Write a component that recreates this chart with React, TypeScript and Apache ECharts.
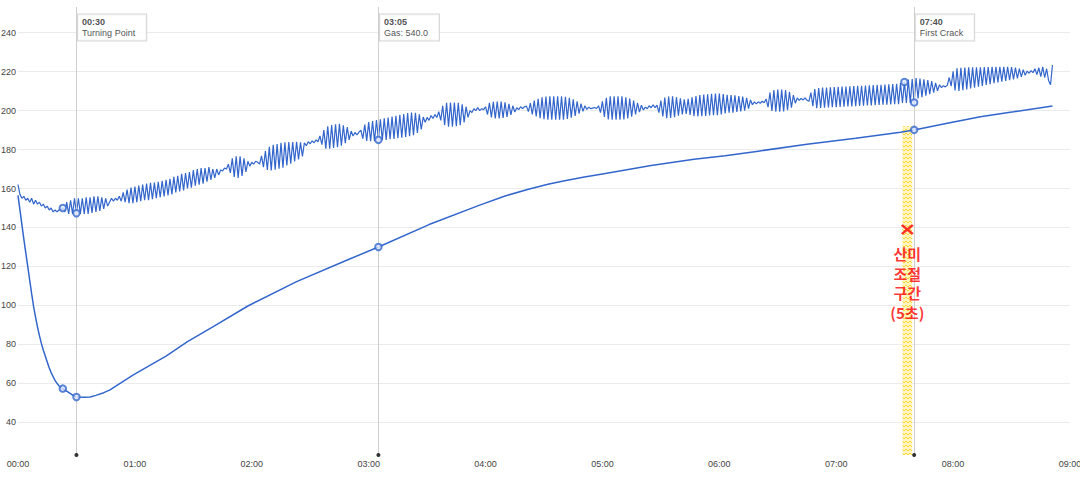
import React, { useEffect, useRef } from "react";
import * as echarts from "echarts";

// ---- axis ticks ----
const yTicks = [40, 60, 80, 100, 120, 140, 160, 180, 200, 220, 240];
const yMin = 23.2;
const yMax = 253.2;
const xMin = 0;
const xMax = 540;
const xStep = 60;

// ---- ET (upper, oscillating) : one value per second, chunk start time given ----
const etPart1 = [162, 157, 155, 156, 154, 155, 153, 155, 152, 154, 152, 153, 151, 152, 150, 151, 149, 150, 148, 149, 148, 149, 149,
  150, 148, 153, 147, 154, 147, 155, 147.3, 155, 147, 155, 147, 155.5, 147, 155.5, 147.5, 156, 148, 156, 148.5, 155.5, 149.5, 155, 151,
  153, 155, 153.5, 155, 154, 156];
const etPart2 = [153.5, 158, 153, 159.5, 152.5, 160.5, 152.5, 161, 153, 161.5, 153.5, 162, 154, 162.5, 154, 163, 154.5, 163, 155, 163.5,
  155.5, 164, 156, 164.5, 156.5, 165, 157, 166, 158, 166.5, 158.5, 167.5, 159, 168, 160, 168.5, 160.5, 169.5, 161.5, 170, 162, 170.5,
  162.5, 170.5, 163.5, 171, 164.5, 170, 165.5, 170, 167, 169.5,
  169, 170.5, 170,
  172.5, 168, 175.5, 166, 176.5, 165.5, 176.5, 166.5, 175.5, 168.5, 174,
  171.5, 173.5, 172.5, 174, 173.5];
const etPart3 = [172.5, 176.8, 171, 179.3, 169.6, 181.4, 169.3, 182.4, 169.7, 182.9, 170.2, 183.5, 170.7, 183.8, 171.8, 183.9, 172.8,
  183.8, 173.9, 184, 175, 183.7, 176.5, 183.5,
  182, 184, 183, 184.5, 183.5, 185, 184,
  187, 182.5, 190, 180.5, 192, 180.4, 192.6, 180.8, 193, 181.2, 193.2, 182, 192.5, 183.3, 191.5, 185,
  189.5, 187, 188.8, 187.5, 189];
const etPart4 = [190, 185.6, 192.8, 184.5, 194.1, 184.3, 194.6, 184.3, 195.2, 185, 195.6, 184.8, 196.1, 185, 196.5, 185.3, 196.9, 185.5,
  197.4, 185.8, 197.9, 186.1, 198.3, 186.5, 198.7, 186.9, 199, 187.4, 198.9, 188.5, 198.1, 190.3, 196.7,
  194, 196.5, 195, 197.5, 196, 198, 196.5,
  199.5, 195, 202.5, 192.5, 204, 191.8, 204.2, 191.8, 204.2, 192, 204, 192.5, 203.3, 194, 202, 196.5, 200,
  199, 201, 200, 201.5, 200, 201, 200.5];
const etPart5 = [202, 198, 204, 196.5, 204.5, 196, 204.7, 196, 204.6, 196.2, 204.3, 196.8, 203.5, 197.8, 202.5, 199.3,
  201.5, 200.5, 202, 201, 202,
  202.3, 199.5, 203.8, 198.1, 205.1, 197, 206.1, 196.1, 206.8, 195.6, 207.2, 195.3, 207.3, 195.3, 207.3, 195.3, 207.3, 195.3, 207.3,
  195.4, 207.1, 195.7, 206.6, 196.4, 205.8, 197.3, 204.8, 198.4, 203.6, 199.6, 202.5, 200.6,
  201.8, 201, 201.3, 201.6, 201.1];
const etPart6 = [202.5, 199, 204.8, 196.8, 206.6, 195.5, 207.3, 195.3, 207.3, 195.3, 207.3, 195.3, 207.3, 195.5, 206.9, 196, 206.2,
  196.9, 205.2, 198, 204, 199.2, 202.8, 200.3, 201.8,
  201, 202.5, 201.5, 203, 201.5,
  202.8, 199, 205.2, 197, 206.7, 196.1, 207.2, 196.2, 207.3, 196.6, 206.9, 197.4, 206.3, 198, 205.8, 198.3, 206, 197.8, 206.8, 197.2,
  207.5, 197, 208, 197.1, 208.2, 197.3, 208.4, 197.5, 208.6, 197.6, 208.7, 197.7, 208.7, 198, 208.5, 198.5, 208.1, 198.9, 208, 199,
  207.8, 199.3, 207.5, 199.6, 207.2, 200, 206.5, 201, 205.5,
  203, 204.5, 203.5, 204.5, 203.8, 204.8, 204];
const etPart7 = [206, 201.8, 209.3, 199.8, 210.6, 199.5, 210.8, 199.5, 210.8, 199.6, 210.6, 200.2, 209.7, 201.5, 208, 203.8,
  206.5, 205.3, 206.2, 205.5, 206.5, 205.3,
  204.8, 209.3, 202.3, 211.1, 201.2, 211.6, 201.4, 211.8, 201.5, 211.9, 201.6, 212, 201.7, 212.1, 201.8, 212.2, 201.9, 212.3, 202,
  212.4, 202.1, 212.5, 202.2, 212.6, 202.3, 212.7, 202.4, 212.8, 202.5, 212.9, 202.6, 213, 202.7, 213.1, 202.8, 213.2, 202.9, 213.3,
  203, 213.4, 203.1, 213.5, 203.2, 213.6, 203.3, 213.8, 203.3, 214.2, 203.9, 214.7, 203.9, 215.9, 204, 216.2, 204.2, 216.7, 206.2,
  216.5, 206.9, 216.1, 207.7, 215.7, 208.5, 215.1, 209.3, 214.3, 210.2, 213.3];
const etPart8 = [211.8, 212.8, 212.2, 213,
  217, 212.6, 220.2, 210.3, 221.7, 210.1, 222, 210.5, 222.1, 210.9, 222.2, 211.4, 222.2, 211.8, 222.3, 212.3, 222.3, 212.7, 222.4,
  213.2, 222.4, 213.6, 222.5, 214.1, 222.5, 214.5, 222.5, 214.9, 222.5, 215.3, 222.5, 215.6, 222.4, 216, 222.1, 216.6, 221.6, 217.3,
  221, 218.2, 220.3,
  219.2, 220.5, 219.5, 221.5, 218.5, 222, 217.5, 222.5, 217, 221.5, 215.5, 213.3, 223.4];
const etStarts = [0, 53, 124, 176, 240, 298, 384, 474];
const etParts = [etPart1, etPart2, etPart3, etPart4, etPart5, etPart6, etPart7, etPart8];

// ---- BT (lower, smooth) ----
const btTimes = [0, 1, 2, 3, 4, 5, 6, 7, 8, 9, 10, 11, 12, 13, 14, 15, 16, 17, 18, 19, 20, 21, 22, 23, 24, 26, 28, 30, 34, 37, 40,
  44, 47, 53, 59, 65, 76, 87, 100, 118, 143, 169, 185, 211, 237, 250, 262, 272, 280, 290, 300, 325, 347, 363, 380, 405, 430, 453, 460,
  477, 494, 511, 531];
const btValues = [156.5, 149, 141.5, 134, 127, 120, 113, 106, 99.5, 94, 89, 84.5, 80.5, 77, 74, 71, 68, 65.5, 63.5, 61.5, 60, 58.8,
  57.8, 57.3, 56.5, 55.3, 54, 53, 52.8, 53, 53.8,
  55.2, 56.5, 60.3, 64.2, 67.7, 74, 81.4, 89, 99.7, 112.2, 123.3, 130, 141.5, 151.5, 156.2, 159.6, 162.2, 163.9, 165.8,
  167.5, 171.8, 175, 176.8, 179.2, 182.7, 185.8, 188.9, 190.1, 193.5, 196.9, 199.4, 202.4];

// ---- markers & events ----
const etMarkerTimes = [23, 30, 185, 455, 460];
const btMarkerTimes = [23, 30, 185, 460];
const eventTimes = [30, 185, 460];
const eventLabels = ["Turning Point", "Gas: 540.0", "First Crack"];

// ---- acidity band ----
const bandStart = 454;
const bandEnd = 459;
const bandTop = 192;
const crossPoint = [456.5, 139];
const bandText = "산미\n조절\n구간\n(5초)";

const BLUE = "#3366cc";

function fmt(v: number) {
  const m = Math.floor(v / 60);
  const s = Math.round(v - m * 60);
  return String(m).padStart(2, "0") + ":" + String(s).padStart(2, "0");
}

function makePattern() {
  const c = document.createElement("canvas");
  c.width = 4;
  c.height = 4;
  const ctx = c.getContext("2d");
  if (ctx) {
    ctx.fillStyle = "#fff5c2";
    ctx.fillRect(0, 0, 4, 4);
    ctx.strokeStyle = "#f7d633";
    ctx.lineWidth = 1;
    ctx.beginPath();
    ctx.moveTo(0, 3);
    ctx.lineTo(2, 1);
    ctx.lineTo(4, 3);
    ctx.stroke();
  }
  return c;
}

export default function App() {
  const ref = useRef<HTMLDivElement>(null);

  useEffect(() => {
    if (!ref.current) return;
    const chart = echarts.init(ref.current, undefined, { renderer: "svg" });

    const etData: number[][] = [];
    etParts.forEach((part, k) => {
      part.forEach((v, i) => etData.push([etStarts[k] + i, v]));
    });
    const etMap = new Map<number, number>();
    etData.forEach(([t, v]) => etMap.set(t, v));
    const btData = btTimes.map((t, i) => [t, btValues[i]]);

    const markerData = [
      ...etMarkerTimes.map((t) => [t, etMap.get(t) as number]),
      ...btMarkerTimes.map((t) => [t, btValues[btTimes.indexOf(t)]]),
    ];

    const font = "'Liberation Sans', Arial, sans-serif";

    chart.setOption({
      animation: false,
      textStyle: { fontFamily: font },
      grid: {
        left: 18,
        right: 10,
        top: 7,
        bottom: 36,
        containLabel: false,
        outerBoundsMode: "none",
      } as any,
      xAxis: {
        type: "value",
        min: xMin,
        max: xMax,
        interval: xStep,
        axisLine: { show: false },
        axisTick: { show: false },
        splitLine: { show: false },
        axisLabel: {
          formatter: (v: number) => fmt(v),
          color: "#444",
          fontSize: 9,
          margin: 4,
          fontFamily: font,
          hideOverlap: false,
        },
      },
      yAxis: {
        type: "value",
        min: yMin,
        max: yMax,
        axisLine: { show: false },
        axisTick: { show: false, customValues: yTicks },
        splitLine: { show: true, lineStyle: { color: "#ebebeb", width: 1 } },
        axisLabel: {
          customValues: yTicks,
          color: "#444",
          fontSize: 9,
          margin: 2,
          fontFamily: font,
        },
      },
      series: [
        {
          name: "events",
          type: "scatter",
          data: eventTimes.map((t, i) => ({ value: [t, yMax], name: eventLabels[i] })),
          symbolSize: 1,
          itemStyle: { color: "rgba(0,0,0,0)" },
          z: 8,
          silent: true,
          label: {
            show: true,
            position: [2, 8],
            formatter: (p: any) => "{t|" + fmt(p.value[0]) + "}\n{n|" + p.name + "}",
            backgroundColor: "#ffffff",
            borderColor: "#cccccc",
            borderWidth: 1,
            padding: [2, 11, 2, 4],
            rich: {
              t: { fontWeight: "bold", fontSize: 9, lineHeight: 11, color: "#222", fontFamily: font },
              n: { fontSize: 9, lineHeight: 11, color: "#222", fontFamily: font },
            },
          },
          markLine: {
            silent: true,
            symbol: ["none", "none"],
            label: { show: false },
            lineStyle: { color: "#cfcfcf", width: 1, type: "solid" },
            data: eventTimes.map((t) => ({ xAxis: t })),
          },
        },
        {
          name: "eventDots",
          type: "scatter",
          data: eventTimes.map((t) => [t, yMin]),
          symbolSize: 4,
          itemStyle: { color: "#000" },
          z: 9,
          silent: true,
        },
        {
          name: "BT",
          type: "line",
          data: btData,
          showSymbol: false,
          smooth: false,
          lineStyle: { color: BLUE, width: 1.5 },
          z: 3,
        },
        {
          name: "ET",
          type: "line",
          data: etData,
          showSymbol: false,
          smooth: false,
          lineStyle: { color: BLUE, width: 1.2 },
          z: 3,
        },
        {
          name: "band",
          type: "scatter",
          data: [],
          z: 6,
          markArea: {
            silent: true,
            itemStyle: { color: { image: makePattern(), repeat: "repeat" } as any },
            data: [[{ xAxis: bandStart, yAxis: yMin }, { xAxis: bandEnd, yAxis: bandTop }]],
          },
        },
        {
          name: "markers",
          type: "scatter",
          data: markerData,
          symbol: "circle",
          symbolSize: 6.5,
          itemStyle: { color: "#dfe7fa", borderColor: BLUE, borderWidth: 2 },
          z: 5,
          silent: true,
        },
        {
          name: "cross",
          type: "scatter",
          data: [crossPoint],
          symbol: "path://M0,0L11,9M11,0L0,9",
          symbolSize: [11, 9],
          itemStyle: { color: "rgba(0,0,0,0)", borderColor: "#ff0000", borderWidth: 2.5 },
          z: 10,
          silent: true,
          label: {
            show: true,
            position: "bottom",
            distance: 9,
            formatter: bandText,
            color: "#ff0000",
            fontSize: 15,
            fontWeight: "bold",
            lineHeight: 19.5,
            align: "center",
            fontFamily: "'Noto Sans CJK KR', sans-serif",
          },
        },
      ],
    });

    return () => chart.dispose();
  }, []);

  return (
    <div
      ref={ref}
      style={{ position: "fixed", left: 0, top: 0, width: 1080, height: 491, background: "#fff" }}
    />
  );
}
